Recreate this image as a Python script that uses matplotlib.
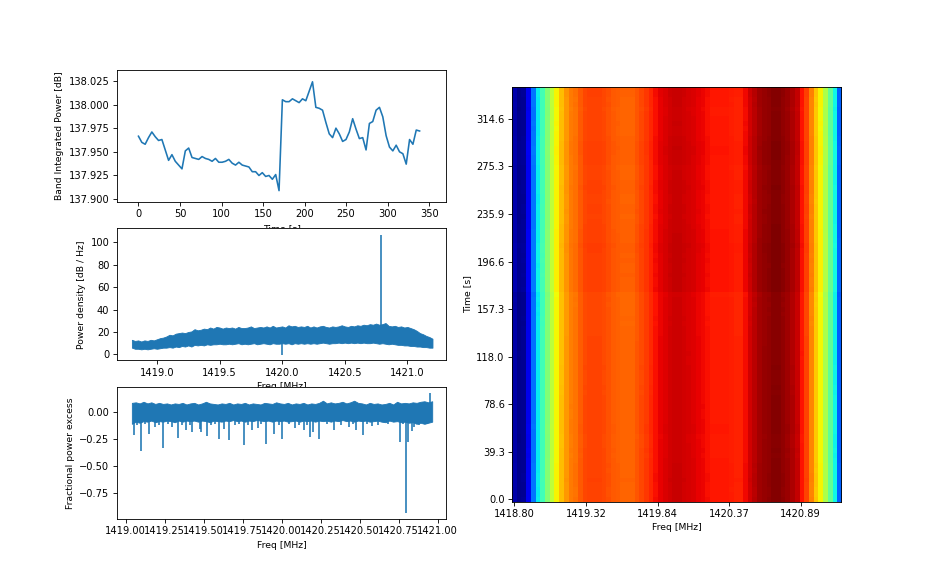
import numpy as np
import matplotlib
matplotlib.use('Agg')
import matplotlib.pyplot as plt

plt.rcParams['xtick.labelsize'] = 9.2
plt.rcParams['ytick.labelsize'] = 9.2
plt.rcParams['axes.labelsize'] = 8.6

# band integrated power per time step [dB]
time_step = 4.03
power = [137.9665, 137.960, 137.958, 137.965, 137.971, 137.966, 137.962, 137.963, 137.952, 137.941,
         137.947, 137.940, 137.936, 137.932, 137.951, 137.954, 137.944, 137.943, 137.942, 137.945,
         137.943, 137.942, 137.940, 137.943, 137.939, 137.939, 137.940, 137.942, 137.938, 137.936,
         137.939, 137.936, 137.935, 137.934, 137.929, 137.929, 137.925, 137.928, 137.924, 137.925,
         137.921, 137.926, 137.909, 138.005, 138.003, 138.003, 138.006, 138.004, 138.002, 138.006,
         138.004, 138.014, 138.024, 137.997, 137.996, 137.994, 137.981, 137.969, 137.965, 137.975,
         137.969, 137.961, 137.963, 137.971, 137.985, 137.974, 137.964, 137.965, 137.952, 137.980,
         137.982, 137.994, 137.997, 137.987, 137.967, 137.955, 137.951, 137.957, 137.950, 137.948,
         137.937, 137.963, 137.958, 137.973, 137.972]

# spectrum envelope, read every 0.025 MHz from 1418.80
spec_start = 1418.80
spec_step = 0.025
spec_upper = [13, 12, 12.5, 11.5, 12.5, 12, 13, 12.5, 13.5, 14.5, 15, 16, 17.5, 17, 18.5, 19, 19.5, 19, 20, 20.5,
              22.5, 21.5, 22, 23, 22.5, 24, 23, 24.5, 24, 23, 24, 23.5, 24, 23, 24.5, 23.5, 23.5, 24, 25, 23.5,
              24, 24.5, 24, 25, 24, 25.5, 24, 24.5, 25, 24, 26, 25, 25.5, 24.5, 25, 24.5, 25.5, 24, 25, 24,
              25, 25.5, 24.5, 24, 25, 24.5, 25, 26, 25, 24.5, 25.5, 25, 26, 25.5, 26.5, 26, 27, 26.5, 27.5, 26.5,
              27, 28, 25.5, 25, 25.5, 24.5, 25, 24, 24.5, 23.5, 22.5, 21, 19, 18, 16.5, 15.5, 14]
spec_lower = [6, 5, 5, 4.5, 5, 4.5, 5, 5.5, 5, 5.5, 6, 6, 6.5, 6, 7, 6.5, 7.5, 7, 8, 7,
              8.5, 8, 8.5, 8, 9, 8.5, 9, 9, 9.5, 9, 9, 9.5, 9, 9.5, 10, 9, 9.5, 9, 9.5, 10,
              9, 9.5, 10, 9.5, 9, 10, 9.5, 9.5, 10, 9.5, 10, 9, 10, 9.5, 10, 9.5, 10, 9.5, 10, 9.5,
              10, 10.5, 10, 9.5, 10, 10, 10.5, 10, 10.5, 10, 10.5, 10, 10.5, 10, 10.5, 10, 10, 10.5, 10, 9.5,
              10, 9.5, 9, 9.5, 9, 8.5, 8.5, 8, 8, 7.5, 7.5, 7, 7, 6.5, 6.5, 6, 6]
spec_spike_freq = [1420.79, 1420.00]
spec_spike_top = [107, 12]
spec_spike_bottom = [20, -0.5]

# fractional power excess envelope, read every 0.025 MHz from 1419.04
res_start = 1419.04
res_step = 0.025
res_upper = [0.085, 0.09, 0.08, 0.095, 0.08, 0.09, 0.075, 0.085, 0.075, 0.08, 0.07, 0.08, 0.075, 0.085, 0.07, 0.08,
             0.085, 0.07, 0.08, 0.095, 0.08, 0.075, 0.07, 0.08, 0.075, 0.085, 0.07, 0.08, 0.075, 0.085, 0.07, 0.08,
             0.075, 0.07, 0.085, 0.08, 0.075, 0.09, 0.08, 0.075, 0.085, 0.07, 0.08, 0.075, 0.085, 0.07, 0.08, 0.075,
             0.085, 0.105, 0.08, 0.09, 0.08, 0.085, 0.095, 0.08, 0.09, 0.105, 0.085, 0.08, 0.07, 0.085, 0.075, 0.08,
             0.07, 0.075, 0.085, 0.07, 0.095, 0.08, 0.085, 0.08, 0.09, 0.085, 0.095, 0.10, 0.09, 0.10]
res_lower = [-0.11, -0.09, -0.10, -0.085, -0.09, -0.08, -0.095, -0.085, -0.09, -0.08, -0.085, -0.095, -0.08, -0.09, -0.08, -0.085,
             -0.08, -0.09, -0.08, -0.085, -0.095, -0.08, -0.085, -0.09, -0.08, -0.085, -0.075, -0.085, -0.08, -0.09, -0.08, -0.085,
             -0.075, -0.08, -0.085, -0.08, -0.09, -0.08, -0.085, -0.08, -0.09, -0.085, -0.08, -0.09, -0.08, -0.085, -0.08, -0.09,
             -0.08, -0.085, -0.08, -0.09, -0.08, -0.085, -0.075, -0.085, -0.08, -0.09, -0.08, -0.085, -0.08, -0.09, -0.085, -0.08,
             -0.09, -0.095, -0.08, -0.09, -0.085, -0.095, -0.09, -0.10, -0.095, -0.11, -0.10, -0.11, -0.10, -0.09]
res_spike_freq = [1419.051, 1419.096, 1419.152, 1419.19, 1419.241, 1419.297, 1419.335, 1419.389, 1419.425,
                  1419.474, 1419.48, 1419.521, 1419.598, 1419.628, 1419.665, 1419.761, 1419.808, 1419.846,
                  1419.902, 1419.949, 1420.0, 1420.083, 1420.141, 1420.182, 1420.2, 1420.239, 1420.335,
                  1420.43, 1420.479, 1420.521, 1420.579, 1420.761, 1420.799, 1420.812, 1420.838, 1420.91,
                  1419.07, 1419.125, 1419.215, 1419.27, 1419.36, 1419.41, 1419.55, 1419.575, 1419.70, 1419.725,
                  1419.785, 1419.87, 1419.98, 1420.05, 1420.11, 1420.16, 1420.29, 1420.38, 1420.455, 1420.55,
                  1420.62, 1420.68, 1420.78, 1420.85, 1420.88, 1420.93]
res_spike_depth = [-0.218, -0.36, -0.203, -0.14, -0.335, -0.14, -0.24, -0.163, -0.188, -0.157, -0.188,
                   -0.225, -0.255, -0.157, -0.258, -0.308, -0.17, -0.15, -0.295, -0.203, -0.25, -0.15,
                   -0.166, -0.234, -0.188, -0.25, -0.163, -0.14, -0.172, -0.21, -0.126, -0.28, -0.938,
                   -0.28, -0.178, -0.11, -0.12, -0.115, -0.125, -0.11, -0.12, -0.125, -0.12, -0.115, -0.12,
                   -0.115, -0.125, -0.11, -0.12, -0.115, -0.12, -0.125, -0.115, -0.12, -0.11, -0.115, -0.12,
                   -0.11, -0.115, -0.14, -0.12, -0.115]
res_peak_freq = 1420.95
res_peak = 0.175

# waterfall: one colour value per frequency channel
profile = [0.04, 0.015, 0.02, 0.10, 0.24, 0.36, 0.43, 0.51, 0.58, 0.65,
           0.71, 0.75, 0.78, 0.79, 0.815, 0.835, 0.84, 0.84, 0.84, 0.835,
           0.825, 0.815, 0.81, 0.805, 0.805, 0.805, 0.82, 0.835, 0.85, 0.87,
           0.895, 0.91, 0.92, 0.93, 0.935, 0.935, 0.93, 0.925, 0.92, 0.91,
           0.905, 0.895, 0.885, 0.885, 0.885, 0.885, 0.88, 0.875, 0.875, 0.90,
           0.93, 0.95, 0.97, 0.98, 0.985, 0.995, 0.995, 0.985, 0.975, 0.96,
           0.94, 0.89, 0.84, 0.77, 0.70, 0.65, 0.56, 0.47, 0.37, 0.22]
wf_xtick_pos = [0, 15.2, 30.4, 45.6, 60.8]
wf_xticks = ['1418.80', '1419.32', '1419.84', '1420.37', '1420.89']
wf_ytick_pos = [0, 9.75, 19.5, 29.25, 39, 48.75, 58.5, 68.25, 78]
wf_yticks = ['0.0', '39.3', '78.6', '118.0', '157.3', '196.6', '235.9', '275.3', '314.6']

power = np.array(power)
times = np.arange(len(power)) * time_step
spec_freq = spec_start + spec_step * np.arange(len(spec_upper))
res_freq = res_start + res_step * np.arange(len(res_upper))
waterfall = np.array(profile)[None, :] + 0.1 * (power[:, None] - 137.97)

fig = plt.figure(figsize=(935 / 77, 583 / 77), dpi=77)

# band power vs time
ax1 = plt.subplot(3, 2, 1)
ax1.plot(times, power)
ax1.set_xlim(-26, 370.6)
ax1.set_ylim(137.897, 138.0365)
ax1.set_yticks(np.arange(137.9, 138.03, 0.025))
ax1.ticklabel_format(axis='y', useOffset=False)
ax1.set_xlabel('Time [s]')
ax1.set_ylabel('Band Integrated Power [dB]')

# mean spectrum
ax2 = plt.subplot(3, 2, 3)
ax2.fill_between(spec_freq, spec_lower, spec_upper, color='C0', lw=0.8)
ax2.vlines(spec_spike_freq, spec_spike_bottom, spec_spike_top, color='C0', lw=1.5)
ax2.set_xlim(1418.68, 1421.31)
ax2.set_ylim(-5.4, 112.5)
ax2.ticklabel_format(axis='x', useOffset=False)
ax2.set_xlabel('Freq [MHz]')
ax2.set_ylabel('Power density [dB / Hz]')

# residuals
ax3 = plt.subplot(3, 2, 5)
ax3.fill_between(res_freq, res_lower, res_upper, color='C0', lw=0.8)
ax3.vlines(res_spike_freq, 0, res_spike_depth, color='C0', lw=1.5)
ax3.vlines(res_peak_freq, 0, res_peak, color='C0', lw=1.5)
ax3.set_xlim(1418.944, 1421.055)
ax3.set_ylim(-0.994, 0.234)
ax3.set_xticks(np.arange(1419.0, 1421.01, 0.25))
ax3.set_xticklabels(['%.2f' % f for f in np.arange(1419.0, 1421.01, 0.25)])
ax3.set_yticks([-0.75, -0.5, -0.25, 0])
ax3.set_xlabel('Freq [MHz]')
ax3.set_ylabel('Fractional power excess')

# waterfall
ax4 = plt.subplot(1, 2, 2)
ax4.imshow(waterfall, cmap='jet', vmin=0, vmax=1, origin='lower', aspect=1.0357)
ax4.set_xticks(wf_xtick_pos)
ax4.set_xticklabels(wf_xticks)
ax4.set_yticks(wf_ytick_pos)
ax4.set_yticklabels(wf_yticks)
ax4.set_xlabel('Freq [MHz]')
ax4.set_ylabel('Time [s]')

fig.savefig('out.png', dpi=77)
